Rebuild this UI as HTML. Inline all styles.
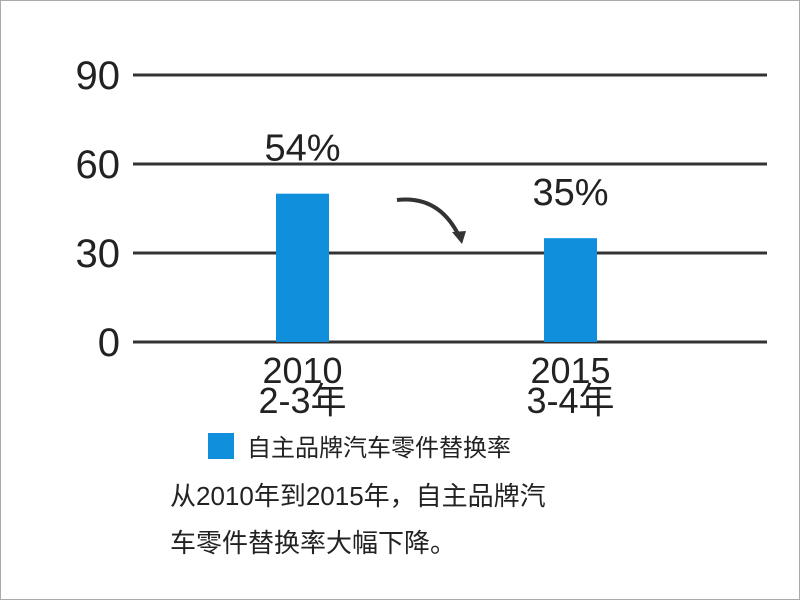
<!DOCTYPE html>
<html><head><meta charset="utf-8"><style>
body{margin:0;width:800px;height:600px;background:#fff;overflow:hidden}
svg{display:block}
text{font-family:"Liberation Sans","Noto Sans CJK SC",sans-serif;fill:#222}
</style></head><body>
<svg id="c" width="800" height="600">
<rect x="0.5" y="0.5" width="799" height="599" fill="none" stroke="#aaa"/>
<g id="grid"></g><g id="bars"></g>
<path d="M397,200 Q440,195 460,238" fill="none" stroke="#333" stroke-width="4"/>
<polygon points="452,232 466,231 462,244" fill="#333"/>
<rect x="208" y="433" width="26" height="26" fill="#0f8fdc"/>
<text x="247" y="456" font-size="24">自主品牌汽车零件替换率</text>
<text x="170" y="505" font-size="26">从2010年到2015年，自主品牌汽</text>
<text x="170" y="552" font-size="26">车零件替换率大幅下降。</text>
</svg>
<script>
const categories=["2010","2015"];
const subLabels=["2-3年","3-4年"];
const values=[50,35];
const valueLabels=["54%","35%"];
const ticks=[0,30,60,90];
const svg=document.getElementById('c'),NS="http://www.w3.org/2000/svg";
const y=v=>342-v*(267/90);
const xc=i=>302.5+i*268;
function mk(t,a,p){const e=document.createElementNS(NS,t);for(const k in a)e.setAttribute(k,a[k]);p.appendChild(e);return e;}
const g=document.getElementById('grid'),b=document.getElementById('bars');
ticks.forEach(t=>{
 const l=mk('line',{x1:133,x2:767,y1:y(t),y2:y(t),stroke:"#333","stroke-width":3},g);
 
 
 const tx=mk('text',{x:120,y:y(t)+14,"font-size":40,"text-anchor":"end"},g);tx.textContent=t;
 
 
});
categories.forEach((c,i)=>{
 const r=mk('rect',{x:xc(i)-26.5,y:y(values[i]),width:53,height:342-y(values[i]),fill:"#0f8fdc"},b);
 
 
 const v=mk('text',{x:xc(i),y:y(values[i])-33,"font-size":38,"text-anchor":"middle"},b);v.textContent=valueLabels[i];
 
 
 const t1=mk('text',{x:xc(i),y:383,"font-size":36,"text-anchor":"middle"},b);t1.textContent=c;
 
 
 const t2=mk('text',{x:xc(i),y:413,"font-size":36,"text-anchor":"middle"},b);t2.textContent=subLabels[i];
 
 
});
</script>
</body></html>
